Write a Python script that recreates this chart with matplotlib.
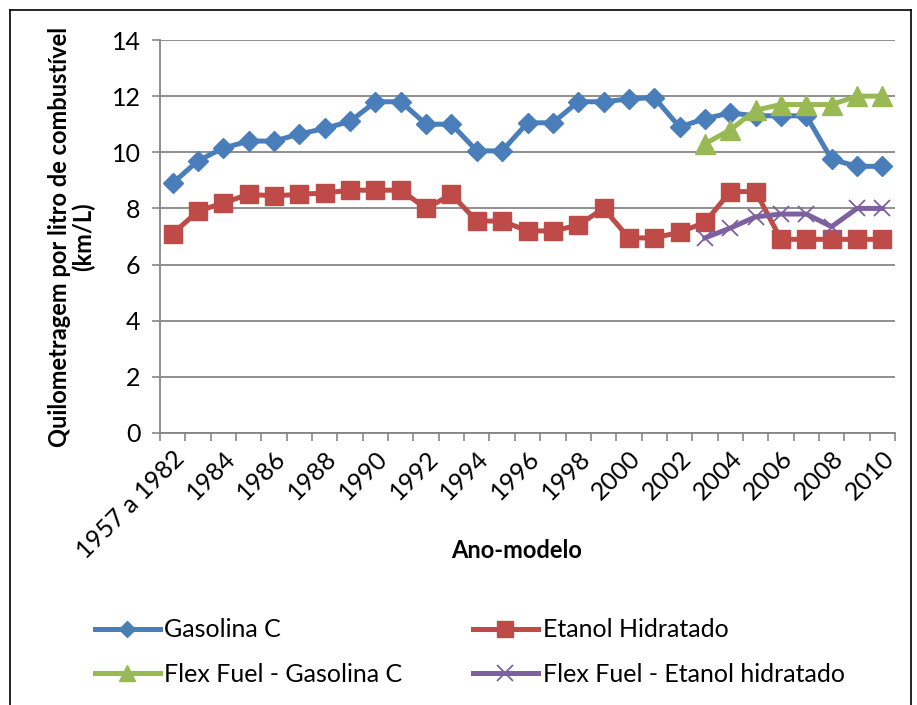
import matplotlib
matplotlib.use("Agg")
import matplotlib.pyplot as plt
from matplotlib.lines import Line2D

categories = ["1957 a 1982"] + [str(y) for y in range(1983, 2011)]

gasolina_c = [8.9, 9.7, 10.15, 10.4, 10.4, 10.65, 10.85, 11.1, 11.8, 11.8,
              11.0, 11.0, 10.05, 10.05, 11.05, 11.05, 11.8, 11.8, 11.9, 11.95,
              10.9, 11.2, 11.4, 11.3, 11.3, 11.3, 9.75, 9.5, 9.5]
etanol_hidratado = [7.1, 7.9, 8.2, 8.5, 8.45, 8.5, 8.55, 8.65, 8.65, 8.65,
                    8.0, 8.5, 7.55, 7.55, 7.2, 7.2, 7.4, 8.0, 6.95, 6.95,
                    7.15, 7.5, 8.6, 8.6, 6.9, 6.9, 6.9, 6.9, 6.9]
flex_years = ["2003", "2004", "2005", "2006", "2007", "2008", "2009", "2010"]
flex_gasolina = [10.3, 10.8, 11.5, 11.7, 11.7, 11.7, 12.0, 12.0]
flex_etanol = [6.95, 7.3, 7.7, 7.8, 7.8, 7.35, 8.0, 8.0]

series_names = ["Gasolina C", "Etanol Hidratado",
                "Flex Fuel - Gasolina C", "Flex Fuel - Etanol hidratado"]

plt.rcParams['font.family'] = ['Lato', 'DejaVu Sans']

fig = plt.figure(figsize=(9.17, 7.05), dpi=100)
ax = fig.add_axes([160/917, 1-433/705, (895-160)/917, (433-40)/705])

x_all = list(range(len(categories)))
x_flex = [categories.index(y) for y in flex_years]

blue, red, green, purple = "#4A7EBB", "#BE4B48", "#98B954", "#7D60A0"

ax.plot(x_all, gasolina_c, color=blue, lw=3.6, marker="D", ms=10,
        mec=blue, mfc=blue, zorder=3)
ax.plot(x_all, etanol_hidratado, color=red, lw=3.6, marker="s", ms=13,
        mec=red, mfc=red, zorder=3)
ax.plot(x_flex, flex_gasolina, color=green, lw=3.6, marker="^", ms=14,
        mec=green, mfc=green, zorder=4)
ax.plot(x_flex, flex_etanol, color=purple, lw=3.6, marker="x", ms=11,
        mew=1.3, mec=purple, zorder=4)

ax.set_xlim(-0.5, len(categories) - 0.5)
ax.set_ylim(0, 14)
ax.set_yticks(range(0, 15, 2))
ax.grid(axis="y", color="#868686", lw=1.3)
ax.set_axisbelow(True)

ax.set_xticks([i - 0.5 for i in range(len(categories) + 1)], minor=False)
ax.set_xticklabels([])
ax.set_xticks(x_all[::2], minor=True)
ax.set_xticklabels(categories[::2], minor=True, rotation=45, ha="right",
                   va="top", rotation_mode="anchor", fontsize=18)
ax.tick_params(axis="x", which="minor", length=0, pad=10)
ax.tick_params(axis="x", which="major", length=6, color="#868686", width=1.2)
ax.tick_params(axis="y", length=6, color="#868686", width=1.2, labelsize=18, pad=8)

for side in ("top", "right"):
    ax.spines[side].set_visible(False)
for side in ("left", "bottom"):
    ax.spines[side].set_color("#868686")
    ax.spines[side].set_linewidth(1.3)

ax.set_ylabel("Quilometragem por litro de combustível\n(km/L)",
              fontsize=17, fontweight="bold", labelpad=12, linespacing=1.0)
fig.text(517/917, 1-550/705, "Ano-modelo", fontsize=17, fontweight="bold",
         ha="center", va="center")

handles = [
    Line2D([], [], color=blue, lw=3.6, marker="D", ms=8),
    Line2D([], [], color=red, lw=3.6, marker="s", ms=11),
    Line2D([], [], color=green, lw=3.6, marker="^", ms=11),
    Line2D([], [], color=purple, lw=3.6, marker="x", ms=11, mew=1.3),
]
# legend fills column-wise, so order entries to read row by row
order = [0, 2, 1, 3]
fig.legend([handles[i] for i in order], [series_names[i] for i in order],
           loc="center left", bbox_to_anchor=(72/917, 1-652/705), ncol=2,
           frameon=False, fontsize=18, handlelength=2.6, handletextpad=0.2,
           columnspacing=2.8, labelspacing=0.85)

# outer frame
fig.add_artist(Line2D([10/917, 10/917], [0, 1-10/705], color="black", lw=1.2,
                      transform=fig.transFigure))
fig.add_artist(Line2D([10/917, 911/917], [1-10/705, 1-10/705], color="black",
                      lw=1.2, transform=fig.transFigure))
fig.add_artist(Line2D([911/917, 911/917], [0, 1-10/705], color="black", lw=1.2,
                      transform=fig.transFigure))

fig.savefig("out.png", dpi=100)
